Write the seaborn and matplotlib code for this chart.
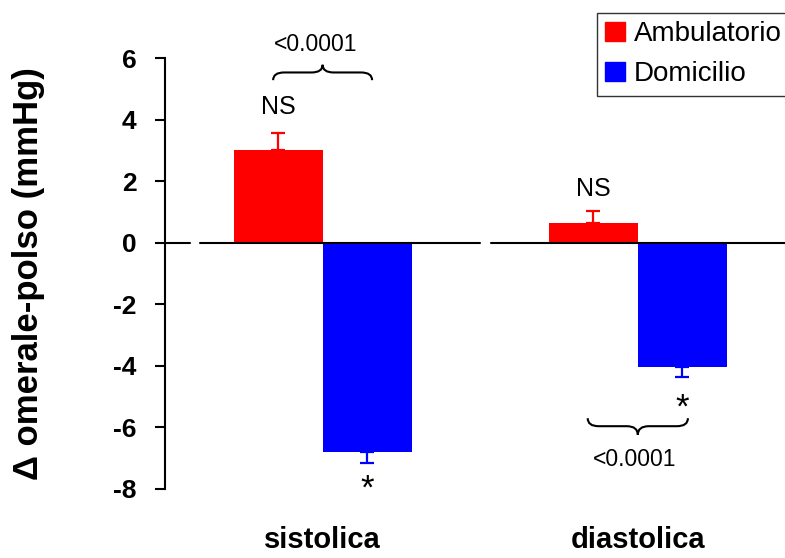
import matplotlib
matplotlib.use("Agg")
import numpy as np
import pandas as pd
import seaborn as sns
import matplotlib.pyplot as plt
import matplotlib.patches as mpatches
from matplotlib.path import Path

categories = ["sistolica", "diastolica"]
groups = ["Ambulatorio", "Domicilio"]
ambulatorio = [3.0, 0.63]
ambulatorio_err = [0.58, 0.39]
domicilio = [-6.8, -4.05]
domicilio_err = [0.36, 0.32]
ns_labels = ["NS", "NS"]
star_labels = ["*", "*"]
p_labels = ["<0.0001", "<0.0001"]
yticks = [-8, -6, -4, -2, 0, 2, 4, 6]
colors = ["#ff0000", "#0000ff"]


def brace(ax, xc, half, y_end, y_mid, y_tip, r=0.035):
    x0, x1 = xc - half, xc + half
    verts = [(x0, y_end), (x0, y_mid), (x0 + r, y_mid),
             (xc - r, y_mid), (xc, y_mid), (xc, y_tip),
             (xc, y_mid), (xc + r, y_mid),
             (x1 - r, y_mid), (x1, y_mid), (x1, y_end)]
    codes = [Path.MOVETO, Path.CURVE3, Path.CURVE3,
             Path.LINETO, Path.CURVE3, Path.CURVE3,
             Path.CURVE3, Path.CURVE3,
             Path.LINETO, Path.CURVE3, Path.CURVE3]
    ax.add_patch(mpatches.PathPatch(Path(verts, codes), fill=False,
                                    lw=1.5, color="black", clip_on=False))


if __name__ == '__main__':
    sns.set_style("white")
    plt.rcParams['font.family'] = ['Liberation Sans', 'DejaVu Sans']
    plt.rcParams.update({"text.color": "black", "axes.labelcolor": "black",
                         "xtick.color": "black", "ytick.color": "black"})

    df = pd.DataFrame({
        "Categoria": categories * 2,
        "Gruppo": [groups[0]] * 2 + [groups[1]] * 2,
        "Delta": ambulatorio + domicilio,
    })
    errs = {groups[0]: ambulatorio_err, groups[1]: domicilio_err}

    fig = plt.figure(figsize=(7.85, 5.58), dpi=100)
    ax = fig.add_axes([165 / 785, 1 - 489 / 558, 1 - 165 / 785, (489 - 58) / 558])
    sns.barplot(data=df, x="Categoria", y="Delta", hue="Gruppo", order=categories,
                hue_order=groups, palette=colors, saturation=1, width=0.565,
                errorbar=None, linewidth=0, legend=False, ax=ax)

    ax.set_xlim(-0.5, 1.467)
    ax.set_ylim(-8, 6)

    # error bars (one sided) and annotations
    bar_pos = {}
    for g, cont, col in zip(groups, ax.containers, colors):
        for i, bar in enumerate(cont):
            xc = bar.get_x() + bar.get_width() / 2
            h = bar.get_height()
            e = errs[g][i]
            yerr = [[0], [e]] if h >= 0 else [[e], [0]]
            ax.errorbar([xc], [h], yerr=yerr, fmt='none', ecolor=col,
                        elinewidth=1.6, capsize=4.8, capthick=1.6, zorder=3)
            bar_pos[(g, i)] = (xc, h, e)

    for i in range(len(categories)):
        xc, h, e = bar_pos[(groups[0], i)]
        ax.text(xc, h + e + (0.45 if i == 0 else 0.33), ns_labels[i], ha='center', va='bottom',
                fontsize=18)
        xc, h, e = bar_pos[(groups[1], i)]
        ax.text(xc, h - e - (0.85 if i == 0 else 1.0), star_labels[i], ha='center', va='center',
                fontsize=25, clip_on=False)

    # braces and p values
    brace(ax, 0, 0.157, 5.28, 5.53, 5.78)
    ax.text(-0.022, 6.45, p_labels[0], ha='center', va='center', fontsize=16.5, clip_on=False)
    brace(ax, 1, 0.159, -5.70, -5.96, -6.24)
    ax.text(0.99, -7.03, p_labels[1], ha='center', va='center', fontsize=16.5, clip_on=False)

    # broken zero line
    for a, b in [(-0.5, -0.42), (-0.39, 0.498), (0.535, 1.467)]:
        ax.plot([a, b], [0, 0], color="black", lw=1.5, zorder=4, clip_on=False)

    for s in ["top", "right", "bottom"]:
        ax.spines[s].set_visible(False)
    ax.spines["left"].set_linewidth(1.5)
    ax.spines["left"].set_color("black")
    ax.set_yticks(yticks)
    ax.set_yticklabels([str(t) for t in yticks], fontsize=19, fontweight='bold')
    ax.tick_params(axis='y', left=True, length=7.5, width=1.5, pad=13)
    ax.tick_params(axis='x', length=0, pad=27)
    for lab in ax.get_xticklabels():
        lab.set_fontsize(21)
        lab.set_fontweight('bold')
    ax.set_xlabel("")
    ax.set_ylabel("\u0394 omerale-polso (mmHg)", fontsize=25, fontweight='bold')
    ax.yaxis.set_label_coords(-0.194, 0.5)

    handles = [mpatches.Patch(color=c, label=g) for c, g in zip(colors, groups)]
    fig.legend(handles=handles, loc='upper left', bbox_to_anchor=(597 / 785, 1 - 13 / 558),
               fontsize=20, frameon=True, fancybox=False, edgecolor="#333333",
               handlelength=0.72, handleheight=0.68, handletextpad=0.3,
               labelspacing=0.5, borderaxespad=0, borderpad=0.3, framealpha=1)

    fig.savefig("out.png", dpi=100)
